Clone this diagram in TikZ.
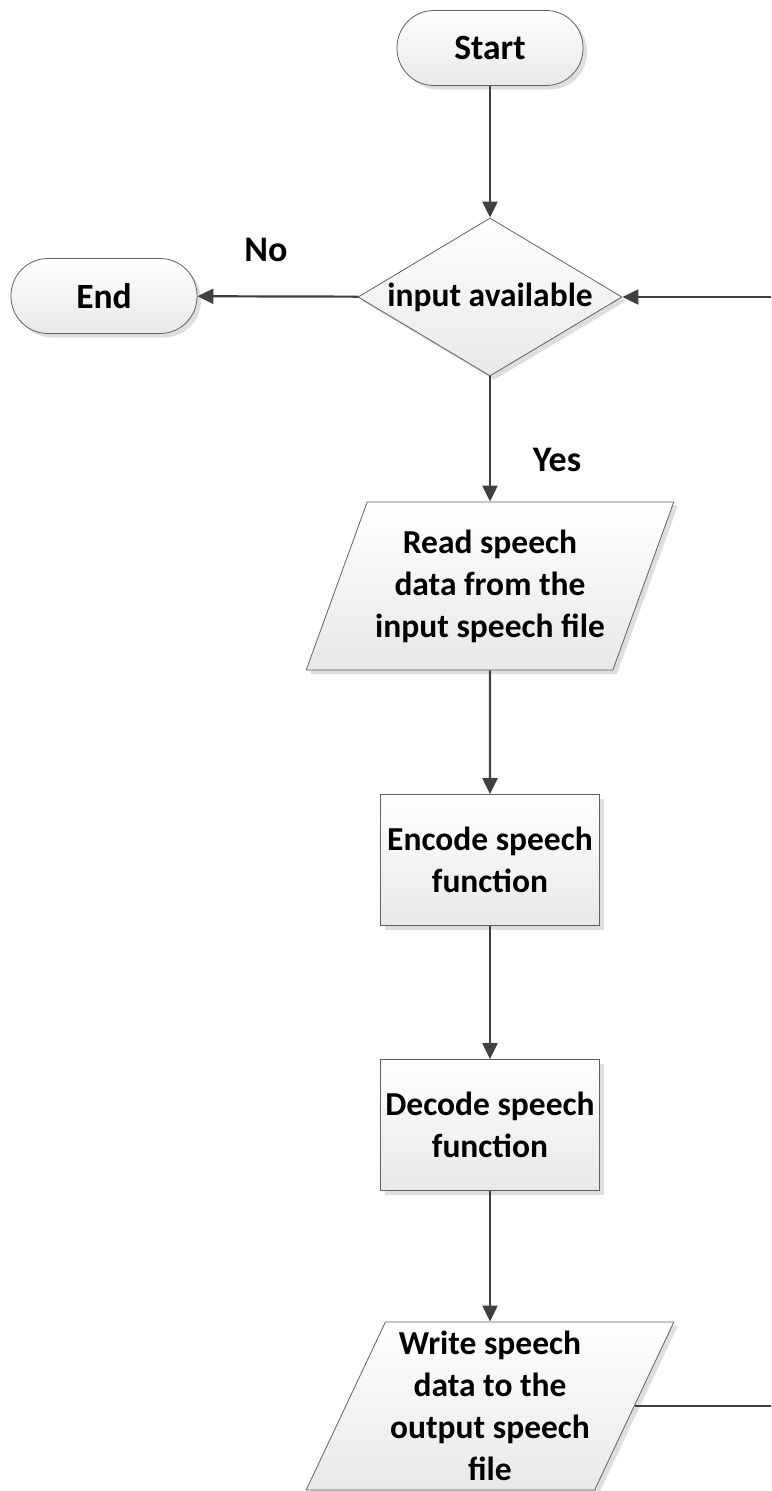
\documentclass[tikz,border=0pt]{standalone}
\usepackage{fontspec}
\setmainfont{Carlito}
\usetikzlibrary{shapes.geometric,shadows,arrows.meta}
\begin{document}
\begin{tikzpicture}[x=1pt,y=-1pt,
  box/.style={draw=black!62, line width=0.8pt, top color=white, bottom color=black!9,
    drop shadow={shadow xshift=4pt, shadow yshift=-4pt, fill=black!13, opacity=1},
    font=\fontsize{33.5}{42}\selectfont\bfseries, align=center, inner sep=0pt},
  term/.style={box, rectangle, rounded corners=37pt, minimum width=186pt, minimum height=75pt,
    font=\fontsize{35.5}{42}\selectfont\bfseries},
  decision/.style={box, diamond, aspect=1.67, minimum width=264pt, minimum height=158pt},
  io/.style={box, trapezium, trapezium left angle=63.2, trapezium right angle=116.8,
    trapezium stretches=true, minimum width=369pt, minimum height=168pt},
  proc/.style={box, rectangle, minimum width=219pt, minimum height=131pt},
  flow/.style={draw=black!75, line width=2.2pt, -{Triangle[length=16pt,width=15pt]}},
  lbl/.style={font=\fontsize{36}{40}\selectfont\bfseries}
]
\clip (0,0) rectangle (771,1491);

% shapes
\node[term] (start) at (490,48) {Start};
\node[decision] (avail) at (490,297) {input available};
\node[term] (stop) at (104,296) {End};
\node[io] (read) at (490,586) {Read speech\\data from the\\input speech file};
\node[proc] (enc) at (490,860) {Encode speech\\function};
\node[proc] (dec) at (490,1125) {Decode speech\\function};
\node[io] (write) at (490,1406) {Write speech\\data to the\\output speech\\file};

% branch labels
\node[lbl] (no) at (266,250) {No};
\node[lbl] (yes) at (557,460) {Yes};

% loop-back route on the right
\coordinate (loopb) at (800,1406);
\coordinate (loopt) at (800,297);

% connectors
\draw[flow] (start) -- (avail);
\draw[flow] (avail) -- (stop);
\draw[flow] (avail) -- (read);
\draw[flow] (read) -- (enc);
\draw[flow] (enc) -- (dec);
\draw[flow] (dec) -- (write);
\draw[flow] (write.east) -- (loopb) -- (loopt) -- (avail.east);
\end{tikzpicture}
\end{document}
